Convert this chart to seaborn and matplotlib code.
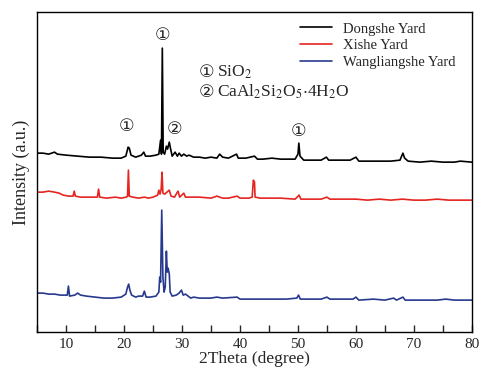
import numpy as np
import pandas as pd
import matplotlib
matplotlib.use("Agg")
import matplotlib.pyplot as plt
import seaborn as sns

# XRD patterns (2theta in degrees, intensity in a.u.)
dongshe_2theta = [5, 6, 7, 8, 8.5, 10, 12, 14, 16, 18, 19.5, 20.3, 20.7, 20.9, 21.2, 22, 23.0, 23.4,
                  23.7, 24.5, 25.5, 26.0, 26.3, 26.45, 26.6, 26.75, 27.0, 27.3, 27.5, 27.8, 28.0, 28.3,
                  28.8, 29.2, 29.5, 29.9, 30.3, 30.8, 31.2, 32, 33, 34, 35, 36, 36.5, 37, 38, 39.4,
                  39.7, 41, 42.5, 43, 44, 45.5, 47, 48, 49.5, 50.0, 50.15, 50.35, 51, 52, 54, 54.9,
                  55.3, 57, 59, 60, 60.5, 62, 64, 66, 67.6, 68.1, 68.4, 69, 71, 73, 75, 77, 78, 80]
dongshe_int = [179, 179, 178, 180, 178, 177, 176, 175, 175, 174, 174, 176, 185, 184, 177, 175, 177, 180,
               176, 176, 177, 178, 192, 178, 284, 180, 178, 186, 183, 190, 184, 176,
               180, 176, 179, 176, 178, 176, 177, 175, 175, 174, 175, 174, 178, 175, 174, 178,
               174, 174, 176, 173, 173, 174, 173, 173, 173, 178, 189, 176, 172, 172, 172, 175,
               172, 172, 172, 175, 171, 171, 171, 171, 172, 179, 174, 171, 170, 171, 170, 170, 171, 170]

xishe_2theta = [5, 6, 7, 8, 8.8, 9.5, 10.5, 11.2, 11.4, 11.6, 12.5, 13.5, 15.0, 15.4, 15.6, 15.8, 17,
                18.5, 19.5, 20.4, 20.6, 20.75, 20.9, 21.5, 22.5, 23.5, 24.2, 25, 25.8, 26.0, 26.2,
                26.4, 26.55, 26.7, 27.0, 27.4, 27.8, 28.1, 28.7, 29.3, 29.6, 30.3, 30.6, 31.5, 33,
                35, 36, 37, 38, 39.5, 40, 41.5, 42.1, 42.3, 42.5, 42.6, 43.5, 45, 47, 49.5, 50.2,
                50.5, 52, 54, 55, 55.5, 58, 60, 62, 64, 66, 68, 70, 72, 74, 76, 78, 80]
xishe_int = [140, 140, 141, 140, 139, 137, 136, 136, 141, 136, 135, 135, 135, 135, 143, 135, 134,
             135, 134, 135, 136, 162, 136, 135, 134, 135, 134, 135, 137, 142, 138,
             143, 160, 139, 138, 140, 142, 136, 135, 141, 135, 139, 135, 135, 135,
             134, 136, 134, 134, 136, 134, 134, 135, 152, 150, 135, 134, 134, 134, 133, 137,
             133, 133, 133, 135, 133, 133, 133, 132, 133, 132, 133, 132, 132, 133, 132, 132, 132]

wangliangshe_2theta = [5, 6, 7, 8, 9, 10.2, 10.4, 10.6, 11.5, 12, 12.5, 13.5, 15, 16.5, 18, 19.5, 20.3,
                       20.6, 20.8, 21.0, 21.3, 22, 22.5, 23.2, 23.5, 23.8, 24.5, 25.5, 26.0, 26.15,
                       26.3, 26.5, 26.7, 26.9, 27.1, 27.3, 27.45, 27.6, 27.8, 27.95, 28.3, 29.0, 29.5,
                       29.9, 30.2, 30.6, 31.5, 32, 33, 35, 36, 37, 39.5, 40, 42, 44, 46, 48, 49.8,
                       50.1, 50.4, 52, 54, 55, 55.5, 57, 59.5, 60, 60.5, 63, 65, 66.5, 67, 68.1, 68.5,
                       70, 72, 74, 75.5, 77, 80]
wangliangshe_int = [39, 39, 38, 38, 37, 37, 46, 36, 37, 39, 37, 36, 35, 34, 34, 35, 38,
                    45, 48, 42, 37, 35, 36, 36, 41, 35, 35, 36, 40, 55,
                    50, 122, 55, 40, 45, 81, 60, 64, 58, 40, 36, 37, 39,
                    42, 37, 38, 34, 35, 34, 34, 35, 34, 35, 33, 33, 33, 33, 33, 34,
                    37, 33, 33, 33, 35, 33, 33, 33, 35, 32, 33, 32, 34, 32, 35, 32,
                    32, 32, 32, 33, 32, 32]

series_names = ["Dongshe Yard", "Xishe Yard", "Wangliangshe Yard"]
series_colors = ["#000000", "#e52521", "#27398f"]

sns.set_style("ticks")
plt.rcParams["font.family"] = ["Liberation Serif", "DejaVu Sans"]
plt.rcParams["mathtext.fontset"] = "stix"

fig, ax = plt.subplots(figsize=(4.82, 3.69), dpi=100)
fig.subplots_adjust(left=0.077, right=0.979, top=0.967, bottom=0.100)

data = [(dongshe_2theta, dongshe_int), (xishe_2theta, xishe_int),
        (wangliangshe_2theta, wangliangshe_int)]
for (tt, inten), name, col in zip(data, series_names, series_colors):
    df = pd.DataFrame({"2theta": tt, "intensity": inten})
    sns.lineplot(data=df, x="2theta", y="intensity", ax=ax, color=col,
                 linewidth=1.2, label=name, sort=False)

ax.set_xlim(5, 80)
ax.set_ylim(0, 320)
ax.set_xticks(np.arange(10, 81, 10))
ax.set_xticks(np.arange(5, 81, 10), minor=True)
ax.set_yticks([])
ax.tick_params(axis="x", which="both", direction="in", length=5, width=1,
               labelsize=11, pad=4)
for sp in ax.spines.values():
    sp.set_linewidth(1.0)
    sp.set_color("black")

ax.set_xlabel("2Theta (degree)", fontsize=12.5, labelpad=0)
ax.set_ylabel("Intensity (a.u.)", fontsize=13, labelpad=5)

# circled phase markers above the peaks
circ_font = ["DejaVu Sans"]
for x, y, s in [(26.6, 297, "\u2460"), (20.5, 206, "\u2460"),
                (28.7, 203, "\u2461"), (50.1, 201, "\u2460")]:
    ax.text(x, y, s, ha="center", va="center", fontsize=12.5, family=circ_font)

# phase key
ax.text(32.8, 260, "\u2460", ha="left", va="center", fontsize=12.5, family=circ_font)
ax.text(32.8, 240, "\u2461", ha="left", va="center", fontsize=12.5, family=circ_font)
ax.text(36.0, 260, "SiO$_2$", ha="left", va="center", fontsize=12.5)
ax.text(36.0, 240, "CaAl$_2$Si$_2$O$_5$$\\cdot$4H$_2$O", ha="left", va="center", fontsize=12.5)

ax.legend(loc="upper right", bbox_to_anchor=(0.985, 1.0), frameon=False,
          fontsize=10.5, handlelength=2.2, handletextpad=0.7, labelspacing=0.25,
          borderaxespad=0.3)

fig.savefig("out.png", dpi=100)
